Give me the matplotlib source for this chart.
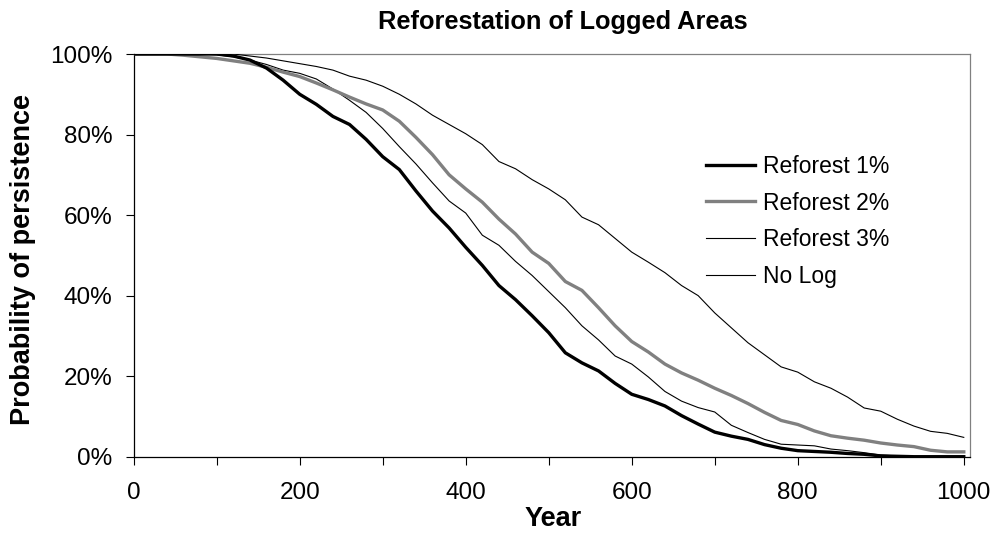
import matplotlib
matplotlib.use("Agg")
import matplotlib.pyplot as plt
from matplotlib.ticker import FixedLocator, FuncFormatter

plt.rcParams['font.family'] = ['Liberation Sans', 'DejaVu Sans']

years = list(range(0, 1001, 20))

reforest_1 = [100, 100, 100, 100, 100, 100, 99.5, 98.5, 96.5, 93.5,
              90.0, 87.5, 84.5, 82.5, 78.8, 74.5, 71.3, 66.0, 61.0, 56.8,
              52.0, 47.5, 42.5, 39.0, 35.0, 30.8, 25.8, 23.3, 21.3, 18.2,
              15.5, 14.2, 12.6, 10.2, 8.1, 6.1, 5.1, 4.3, 3.0, 2.1,
              1.5, 1.3, 1.1, 0.8, 0.6, 0.2, 0.1, 0, 0, 0, 0]

reforest_2 = [100, 100, 100, 99.7, 99.3, 98.9, 98.3, 97.7, 96.7, 95.5,
              94.4, 92.8, 91.1, 89.3, 87.6, 86.1, 83.3, 79.3, 75.0, 70.0,
              66.5, 63.2, 59.0, 55.3, 50.8, 48.0, 43.5, 41.3, 37.0, 32.5,
              28.6, 26.0, 23.0, 20.8, 19.0, 17.0, 15.2, 13.2, 11.0, 9.0,
              8.0, 6.4, 5.2, 4.6, 4.1, 3.4, 2.9, 2.5, 1.6, 1.2, 1.2]

reforest_3 = [100, 100, 100, 100, 100, 99.8, 99.3, 98.5, 97.4, 96.0,
              95.2, 93.8, 91.3, 88.5, 85.5, 81.5, 77.0, 72.7, 68.0, 63.5,
              60.5, 55.0, 52.5, 48.5, 45.0, 41.0, 37.0, 32.5, 29.0, 25.0,
              23.0, 19.8, 16.2, 13.8, 12.2, 11.1, 7.8, 6.0, 4.3, 3.1,
              2.9, 2.7, 1.9, 1.5, 1.0, 0.4, 0.2, 0, 0, 0, 0]

no_log = [100, 100, 100, 100, 100, 100, 100, 99.5, 99.0, 98.3,
          97.6, 96.9, 96.0, 94.5, 93.5, 92.0, 90.0, 87.6, 84.8, 82.5,
          80.2, 77.5, 73.3, 71.5, 68.8, 66.5, 63.8, 59.5, 57.6, 54.2,
          50.8, 48.3, 45.7, 42.5, 40.0, 35.7, 32.0, 28.3, 25.3, 22.3,
          21.0, 18.6, 17.0, 14.8, 12.1, 11.3, 9.3, 7.6, 6.3, 5.8, 4.8]

series_labels = ["Reforest 1%", "Reforest 2%", "Reforest 3%", "No Log"]
x_tick_values = list(range(0, 1001, 100))
x_tick_labels = [str(v) if v % 200 == 0 else "" for v in x_tick_values]
y_tick_values = [0, 20, 40, 60, 80, 100]

fig = plt.figure(figsize=(9.96, 5.33), dpi=100)
ax = fig.add_axes([133.7 / 996, 1 - 456.7 / 533, (970 - 133.7) / 996, (456.7 - 54) / 533])

ax.plot(years, reforest_1, color="black", lw=2.4, label=series_labels[0], zorder=5)
ax.plot(years, reforest_2, color="#808080", lw=2.4, label=series_labels[1], zorder=4)
ax.plot(years, reforest_3, color="black", lw=0.8, label=series_labels[2], zorder=3)
ax.plot(years, no_log, color="black", lw=0.8, label=series_labels[3], zorder=3)

ax.set_xlim(0, 1007.5)
ax.set_ylim(0, 100)
ax.xaxis.set_major_locator(FixedLocator(x_tick_values))
ax.set_xticklabels(x_tick_labels)
ax.yaxis.set_major_locator(FixedLocator(y_tick_values))
ax.yaxis.set_major_formatter(FuncFormatter(lambda v, p: f"{int(v)}%"))

ax.tick_params(axis="both", direction="out", length=5.5, width=0.8, color="black",
               labelsize=17.5)
ax.tick_params(axis="y", pad=10)
ax.tick_params(axis="x", pad=13)

for s in ["left", "bottom"]:
    ax.spines[s].set_color("black")
    ax.spines[s].set_linewidth(0.9)
for s in ["top", "right"]:
    ax.spines[s].set_color("#808080")
    ax.spines[s].set_linewidth(0.9)

ax.set_xlabel("Year", fontsize=19.5, fontweight="bold")
ax.xaxis.set_label_coords((553 - 133.7) / 836.3, (456.7 - 506) / 402.7)
ax.set_ylabel("Probability of persistence", fontsize=19.5, fontweight="bold")
ax.yaxis.set_label_coords((36 - 133.7) / 836.3, (456.7 - 259) / 402.7)
fig.text(563 / 996, 1 - 22 / 533, "Reforestation of Logged Areas", fontsize=18.3,
         fontweight="bold", ha="center", va="center")

leg = ax.legend(loc="upper left", bbox_to_anchor=(706 / 996, 1 - 155 / 533),
                bbox_transform=fig.transFigure, frameon=False, fontsize=16.5,
                handlelength=2.15, handletextpad=0.32, labelspacing=0.59,
                borderpad=0, borderaxespad=0)

fig.savefig("out.png", dpi=100)
